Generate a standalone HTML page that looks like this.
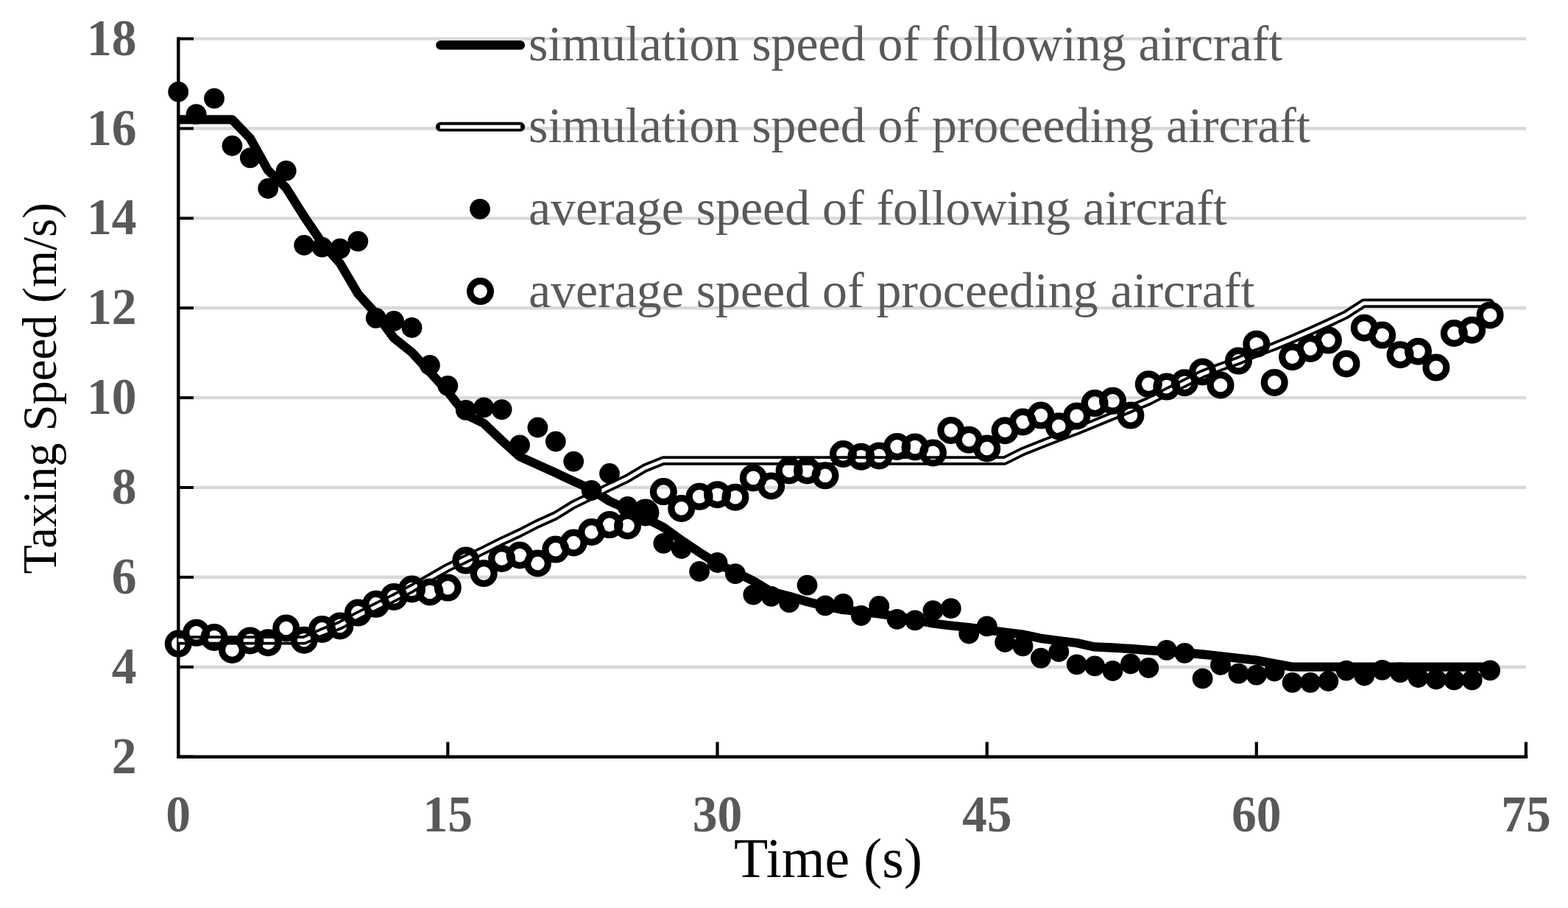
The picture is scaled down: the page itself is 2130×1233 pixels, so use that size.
<!DOCTYPE html>
<html><head><meta charset="utf-8"><title>Taxing Speed</title>
<style>html,body{margin:0;padding:0;background:#fff;}svg{display:block;}.tk{font-family:"Liberation Serif",serif;font-weight:bold;fill:#595959;font-size:70.5px;}.lg{font-family:"Liberation Serif",serif;fill:#595959;font-size:67.8px;}.ax{font-family:"Liberation Serif",serif;fill:#000;font-size:75.7px;}.ay{font-family:"Liberation Serif",serif;fill:#000;font-size:64.5px;}</style></head><body>
<svg width="2130" height="1233" viewBox="0 0 2130 1233">
<rect width="2130" height="1233" fill="#fff"/>
<line x1="262" y1="905.7" x2="2073" y2="905.7" stroke="#d9d9d9" stroke-width="4.4"/>
<line x1="262" y1="783.8" x2="2073" y2="783.8" stroke="#d9d9d9" stroke-width="4.4"/>
<line x1="262" y1="662.0" x2="2073" y2="662.0" stroke="#d9d9d9" stroke-width="4.4"/>
<line x1="262" y1="540.1" x2="2073" y2="540.1" stroke="#d9d9d9" stroke-width="4.4"/>
<line x1="262" y1="418.2" x2="2073" y2="418.2" stroke="#d9d9d9" stroke-width="4.4"/>
<line x1="262" y1="296.4" x2="2073" y2="296.4" stroke="#d9d9d9" stroke-width="4.4"/>
<line x1="262" y1="174.5" x2="2073" y2="174.5" stroke="#d9d9d9" stroke-width="4.4"/>
<line x1="262" y1="52.6" x2="2073" y2="52.6" stroke="#d9d9d9" stroke-width="4.4"/>
<text class="tk" transform="translate(185.5,1049.6) scale(0.958,1)" text-anchor="end">2</text>
<text class="tk" transform="translate(185.5,927.7) scale(0.958,1)" text-anchor="end">4</text>
<text class="tk" transform="translate(185.5,805.8) scale(0.958,1)" text-anchor="end">6</text>
<text class="tk" transform="translate(185.5,684.0) scale(0.958,1)" text-anchor="end">8</text>
<text class="tk" transform="translate(185.5,562.1) scale(0.958,1)" text-anchor="end">10</text>
<text class="tk" transform="translate(185.5,440.2) scale(0.958,1)" text-anchor="end">12</text>
<text class="tk" transform="translate(185.5,318.4) scale(0.958,1)" text-anchor="end">14</text>
<text class="tk" transform="translate(185.5,196.5) scale(0.958,1)" text-anchor="end">16</text>
<text class="tk" transform="translate(185.5,74.6) scale(0.958,1)" text-anchor="end">18</text>
<text class="tk" transform="translate(242.2,1128.5) scale(0.958,1)" text-anchor="middle">0</text>
<text class="tk" transform="translate(608.3,1128.5) scale(0.958,1)" text-anchor="middle">15</text>
<text class="tk" transform="translate(974.5,1128.5) scale(0.958,1)" text-anchor="middle">30</text>
<text class="tk" transform="translate(1340.7,1128.5) scale(0.958,1)" text-anchor="middle">45</text>
<text class="tk" transform="translate(1706.8,1128.5) scale(0.958,1)" text-anchor="middle">60</text>
<text class="tk" transform="translate(2072.9,1128.5) scale(0.958,1)" text-anchor="middle">75</text>
<line x1="242.3" y1="50.6" x2="242.3" y2="1029.7" stroke="#000" stroke-width="4.4"/>
<line x1="240.1" y1="1027.7" x2="2075.3" y2="1027.7" stroke="#000" stroke-width="4.4"/>
<line x1="242" y1="1027.6" x2="263" y2="1027.6" stroke="#000" stroke-width="4"/>
<line x1="242" y1="905.7" x2="263" y2="905.7" stroke="#000" stroke-width="4"/>
<line x1="242" y1="783.8" x2="263" y2="783.8" stroke="#000" stroke-width="4"/>
<line x1="242" y1="662.0" x2="263" y2="662.0" stroke="#000" stroke-width="4"/>
<line x1="242" y1="540.1" x2="263" y2="540.1" stroke="#000" stroke-width="4"/>
<line x1="242" y1="418.2" x2="263" y2="418.2" stroke="#000" stroke-width="4"/>
<line x1="242" y1="296.4" x2="263" y2="296.4" stroke="#000" stroke-width="4"/>
<line x1="242" y1="174.5" x2="263" y2="174.5" stroke="#000" stroke-width="4"/>
<line x1="242" y1="52.6" x2="263" y2="52.6" stroke="#000" stroke-width="4"/>
<line x1="608.3" y1="1007.5" x2="608.3" y2="1027" stroke="#000" stroke-width="4.2"/>
<line x1="974.5" y1="1007.5" x2="974.5" y2="1027" stroke="#000" stroke-width="4.2"/>
<line x1="1340.7" y1="1007.5" x2="1340.7" y2="1027" stroke="#000" stroke-width="4.2"/>
<line x1="1706.8" y1="1007.5" x2="1706.8" y2="1027" stroke="#000" stroke-width="4.2"/>
<line x1="2072.9" y1="1007.5" x2="2072.9" y2="1027" stroke="#000" stroke-width="4.2"/>
<line x1="598.5" y1="61.2" x2="706.7" y2="61.2" stroke="#000" stroke-width="12.6" stroke-linecap="round"/>
<line x1="598.3" y1="172.2" x2="706.6" y2="172.2" stroke="#000" stroke-width="12.8" stroke-linecap="round"/>
<line x1="597.8" y1="172.25" x2="707" y2="172.25" stroke="#fff" stroke-width="4.9" stroke-linecap="butt"/>
<circle cx="652" cy="283.8" r="13.9" fill="#000"/>
<circle cx="652.5" cy="395.6" r="13.9" fill="none" stroke="#000" stroke-width="9.2"/>
<text class="lg" x="718" y="81.8">simulation speed of following aircraft</text>
<text class="lg" x="718" y="193.4">simulation speed of proceeding aircraft</text>
<text class="lg" x="718" y="305.0">average speed of following aircraft</text>
<text class="lg" x="718" y="416.6">average speed of proceeding aircraft</text>
<defs><clipPath id="pa"><rect x="242.2" y="0" width="1888" height="1233"/></clipPath></defs>
<g clip-path="url(#pa)" fill="none" stroke-linejoin="round">
<polyline points="242.2,162.4 315.3,162.4 339.8,187.7 364.2,231.4 388.6,255.0 413.0,293.7 437.5,330.0 461.9,357.5 486.3,399.0 510.7,426.0 535.1,459.0 559.5,478.5 583.9,505.0 608.3,532.0 632.7,563.0 657.1,574.7 681.5,598.0 705.9,620.0 730.3,631.0 754.7,642.0 779.1,653.5 803.5,664.5 827.9,680.5 852.3,691.5 876.7,703.5 901.1,716.0 925.5,733.5 949.9,749.8 974.3,765.5 998.7,777.0 1023.1,788.7 1047.5,803.5 1071.9,809.7 1096.3,817.0 1120.7,823.0 1145.1,828.0 1169.5,830.5 1193.9,833.5 1218.3,837.0 1242.7,841.5 1267.1,846.5 1291.5,849.5 1315.9,852.0 1340.3,855.3 1364.7,858.5 1389.1,861.5 1413.5,866.8 1437.9,870.0 1462.3,873.0 1486.7,878.4 1511.1,879.5 1535.5,881.0 1559.9,883.0 1584.3,884.5 1608.7,886.5 1633.1,888.5 1657.5,891.0 1681.9,893.8 1706.3,896.5 1730.7,901.0 1755.1,905.6 2023.4,905.6" stroke="#000" stroke-width="12.3" stroke-linecap="round"/>
<polyline points="242.2,869.4 413.0,869.4 437.6,858.6 462.3,849.0 486.2,836.0 510.0,824.3 534.4,812.3 558.8,799.5 583.2,785.0 607.7,771.0 632.1,759.3 656.5,747.5 680.9,735.3 705.3,724.0 729.7,711.5 754.1,700.5 778.5,685.5 802.9,673.5 827.3,661.5 851.7,650.0 876.1,635.5 901.0,625.5 1364.5,625.5 1389.1,613.3 1413.5,603.5 1437.9,594.0 1462.3,585.0 1486.7,575.0 1511.1,565.0 1535.5,555.0 1559.9,545.0 1584.3,532.5 1608.7,520.5 1633.1,508.0 1657.5,498.5 1681.7,490.0 1706.1,479.5 1730.5,470.5 1754.9,460.5 1779.3,450.0 1803.7,439.0 1828.1,427.5 1852.5,411.8 2023.7,411.8" stroke="#000" stroke-width="12.4" stroke-linecap="round"/>
<polyline points="242.2,869.4 413.0,869.4 437.6,858.6 462.3,849.0 486.2,836.0 510.0,824.3 534.4,812.3 558.8,799.5 583.2,785.0 607.7,771.0 632.1,759.3 656.5,747.5 680.9,735.3 705.3,724.0 729.7,711.5 754.1,700.5 778.5,685.5 802.9,673.5 827.3,661.5 851.7,650.0 876.1,635.5 901.0,625.5 1364.5,625.5 1389.1,613.3 1413.5,603.5 1437.9,594.0 1462.3,585.0 1486.7,575.0 1511.1,565.0 1535.5,555.0 1559.9,545.0 1584.3,532.5 1608.7,520.5 1633.1,508.0 1657.5,498.5 1681.7,490.0 1706.1,479.5 1730.5,470.5 1754.9,460.5 1779.3,450.0 1803.7,439.0 1828.1,427.5 1852.5,411.8 2023.7,411.8" stroke="#fff" stroke-width="4.9" stroke-linecap="butt"/>
</g>
<g fill="#000">
<circle cx="242.2" cy="124.7" r="13.9"/><circle cx="266.6" cy="155.2" r="13.9"/><circle cx="291.0" cy="133.7" r="13.9"/><circle cx="315.4" cy="198.0" r="13.9"/><circle cx="339.8" cy="214.3" r="13.9"/><circle cx="364.2" cy="256.0" r="13.9"/><circle cx="388.7" cy="231.8" r="13.9"/><circle cx="413.1" cy="333.0" r="13.9"/><circle cx="437.5" cy="335.7" r="13.9"/><circle cx="461.9" cy="337.6" r="13.9"/><circle cx="486.3" cy="327.6" r="13.9"/><circle cx="510.7" cy="431.8" r="13.9"/><circle cx="535.1" cy="436.0" r="13.9"/><circle cx="559.5" cy="445.0" r="13.9"/><circle cx="583.9" cy="496.0" r="13.9"/><circle cx="608.3" cy="523.8" r="13.9"/><circle cx="632.8" cy="556.9" r="13.9"/><circle cx="657.2" cy="553.3" r="13.9"/><circle cx="681.6" cy="556.1" r="13.9"/><circle cx="706.0" cy="604.4" r="13.9"/><circle cx="730.4" cy="580.5" r="13.9"/><circle cx="754.8" cy="599.5" r="13.9"/><circle cx="779.2" cy="626.6" r="13.9"/><circle cx="803.6" cy="666.0" r="13.9"/><circle cx="828.0" cy="643.0" r="13.9"/><circle cx="852.5" cy="688.0" r="13.9"/><circle cx="876.9" cy="696.0" r="13.9"/><circle cx="901.3" cy="737.8" r="13.9"/><circle cx="925.7" cy="745.0" r="13.9"/><circle cx="950.1" cy="776.0" r="13.9"/><circle cx="974.5" cy="764.0" r="13.9"/><circle cx="998.9" cy="779.2" r="13.9"/><circle cx="1023.3" cy="807.6" r="13.9"/><circle cx="1047.7" cy="809.8" r="13.9"/><circle cx="1072.1" cy="818.2" r="13.9"/><circle cx="1096.5" cy="794.6" r="13.9"/><circle cx="1121.0" cy="822.4" r="13.9"/><circle cx="1145.4" cy="819.8" r="13.9"/><circle cx="1169.8" cy="836.0" r="13.9"/><circle cx="1194.2" cy="823.0" r="13.9"/><circle cx="1218.6" cy="840.8" r="13.9"/><circle cx="1243.0" cy="842.3" r="13.9"/><circle cx="1267.4" cy="829.2" r="13.9"/><circle cx="1291.8" cy="826.2" r="13.9"/><circle cx="1316.2" cy="860.5" r="13.9"/><circle cx="1340.7" cy="850.3" r="13.9"/><circle cx="1365.1" cy="872.0" r="13.9"/><circle cx="1389.5" cy="877.4" r="13.9"/><circle cx="1413.9" cy="893.6" r="13.9"/><circle cx="1438.3" cy="885.0" r="13.9"/><circle cx="1462.7" cy="902.3" r="13.9"/><circle cx="1487.1" cy="904.3" r="13.9"/><circle cx="1511.5" cy="911.0" r="13.9"/><circle cx="1535.9" cy="901.5" r="13.9"/><circle cx="1560.3" cy="907.0" r="13.9"/><circle cx="1584.8" cy="882.8" r="13.9"/><circle cx="1609.2" cy="886.8" r="13.9"/><circle cx="1633.6" cy="921.4" r="13.9"/><circle cx="1658.0" cy="903.0" r="13.9"/><circle cx="1682.4" cy="914.7" r="13.9"/><circle cx="1706.8" cy="916.6" r="13.9"/><circle cx="1731.2" cy="911.5" r="13.9"/><circle cx="1755.6" cy="926.8" r="13.9"/><circle cx="1780.0" cy="926.8" r="13.9"/><circle cx="1804.4" cy="925.0" r="13.9"/><circle cx="1828.9" cy="910.7" r="13.9"/><circle cx="1853.3" cy="917.5" r="13.9"/><circle cx="1877.7" cy="909.9" r="13.9"/><circle cx="1902.1" cy="913.2" r="13.9"/><circle cx="1926.5" cy="920.0" r="13.9"/><circle cx="1950.9" cy="922.5" r="13.9"/><circle cx="1975.3" cy="923.4" r="13.9"/><circle cx="1999.7" cy="923.4" r="13.9"/><circle cx="2024.1" cy="910.4" r="13.9"/>
</g>
<g fill="none" stroke="#000" stroke-width="9.2">
<circle cx="242.2" cy="874.1" r="13.9"/><circle cx="266.6" cy="859.3" r="13.9"/><circle cx="291.0" cy="865.4" r="13.9"/><circle cx="315.4" cy="882.5" r="13.9"/><circle cx="339.8" cy="869.9" r="13.9"/><circle cx="364.2" cy="872.7" r="13.9"/><circle cx="388.7" cy="853.0" r="13.9"/><circle cx="413.1" cy="869.2" r="13.9"/><circle cx="437.5" cy="854.4" r="13.9"/><circle cx="461.9" cy="849.9" r="13.9"/><circle cx="486.3" cy="832.1" r="13.9"/><circle cx="510.7" cy="820.3" r="13.9"/><circle cx="535.1" cy="810.4" r="13.9"/><circle cx="559.5" cy="800.0" r="13.9"/><circle cx="583.9" cy="803.9" r="13.9"/><circle cx="608.3" cy="798.1" r="13.9"/><circle cx="632.8" cy="761.1" r="13.9"/><circle cx="657.2" cy="778.6" r="13.9"/><circle cx="681.6" cy="758.5" r="13.9"/><circle cx="706.0" cy="754.0" r="13.9"/><circle cx="730.4" cy="765.0" r="13.9"/><circle cx="754.8" cy="746.1" r="13.9"/><circle cx="779.2" cy="737.0" r="13.9"/><circle cx="803.6" cy="722.5" r="13.9"/><circle cx="828.0" cy="712.6" r="13.9"/><circle cx="852.5" cy="714.0" r="13.9"/><circle cx="876.9" cy="696.0" r="13.9"/><circle cx="901.3" cy="667.6" r="13.9"/><circle cx="925.7" cy="690.4" r="13.9"/><circle cx="950.1" cy="674.3" r="13.9"/><circle cx="974.5" cy="671.7" r="13.9"/><circle cx="998.9" cy="675.2" r="13.9"/><circle cx="1023.3" cy="648.9" r="13.9"/><circle cx="1047.7" cy="660.0" r="13.9"/><circle cx="1072.1" cy="639.0" r="13.9"/><circle cx="1096.5" cy="639.0" r="13.9"/><circle cx="1121.0" cy="645.8" r="13.9"/><circle cx="1145.4" cy="616.5" r="13.9"/><circle cx="1169.8" cy="620.2" r="13.9"/><circle cx="1194.2" cy="618.9" r="13.9"/><circle cx="1218.6" cy="606.4" r="13.9"/><circle cx="1243.0" cy="607.0" r="13.9"/><circle cx="1267.4" cy="614.9" r="13.9"/><circle cx="1291.8" cy="584.4" r="13.9"/><circle cx="1316.2" cy="597.2" r="13.9"/><circle cx="1340.7" cy="609.0" r="13.9"/><circle cx="1365.1" cy="584.7" r="13.9"/><circle cx="1389.5" cy="573.0" r="13.9"/><circle cx="1413.9" cy="564.1" r="13.9"/><circle cx="1438.3" cy="578.8" r="13.9"/><circle cx="1462.7" cy="564.9" r="13.9"/><circle cx="1487.1" cy="547.6" r="13.9"/><circle cx="1511.5" cy="544.3" r="13.9"/><circle cx="1535.9" cy="564.1" r="13.9"/><circle cx="1560.3" cy="521.7" r="13.9"/><circle cx="1584.8" cy="525.1" r="13.9"/><circle cx="1609.2" cy="519.7" r="13.9"/><circle cx="1633.6" cy="504.9" r="13.9"/><circle cx="1658.0" cy="523.0" r="13.9"/><circle cx="1682.4" cy="490.1" r="13.9"/><circle cx="1706.8" cy="467.2" r="13.9"/><circle cx="1731.2" cy="519.4" r="13.9"/><circle cx="1755.6" cy="484.7" r="13.9"/><circle cx="1780.0" cy="473.4" r="13.9"/><circle cx="1804.4" cy="462.1" r="13.9"/><circle cx="1828.9" cy="493.9" r="13.9"/><circle cx="1853.3" cy="445.2" r="13.9"/><circle cx="1877.7" cy="455.1" r="13.9"/><circle cx="1902.1" cy="481.7" r="13.9"/><circle cx="1926.5" cy="477.2" r="13.9"/><circle cx="1950.9" cy="499.1" r="13.9"/><circle cx="1975.3" cy="452.5" r="13.9"/><circle cx="1999.7" cy="448.2" r="13.9"/><circle cx="2024.1" cy="427.9" r="13.9"/>
</g>
<text class="ax" x="1125" y="1190.8" text-anchor="middle">Time (s)</text>
<text class="ay" transform="translate(76,527.5) rotate(-90)" text-anchor="middle">Taxing Speed (m/s)</text>
</svg>
</body></html>
